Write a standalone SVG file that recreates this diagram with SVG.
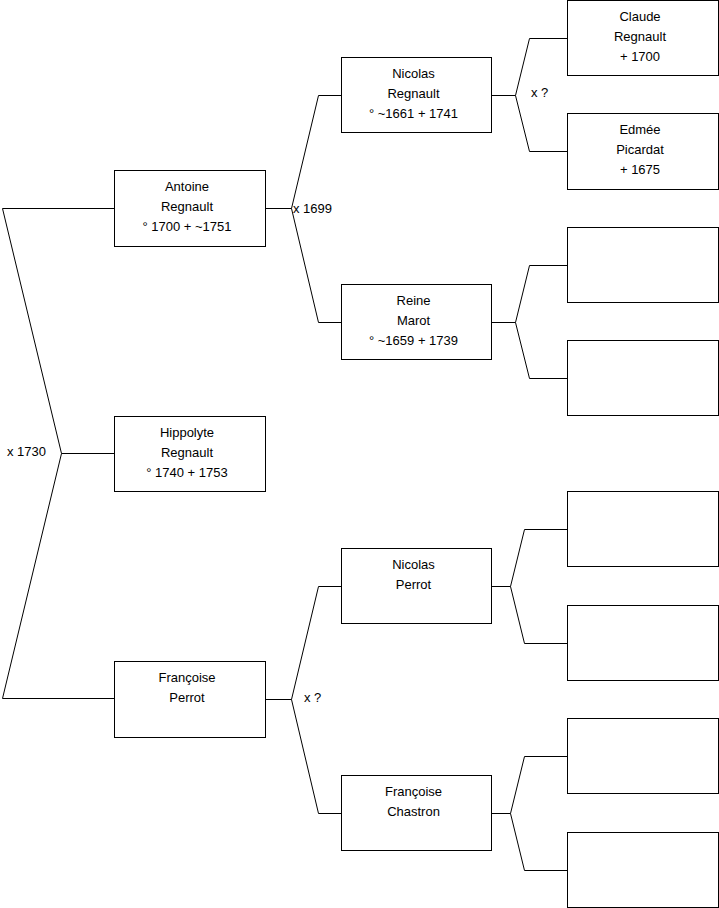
<svg xmlns="http://www.w3.org/2000/svg" width="719" height="908" viewBox="0 0 719 908">
<style>
.box{fill:#fff;stroke:#000;stroke-width:1}
.ln{fill:none;stroke:#000;stroke-width:1}
text{font-family:"Liberation Sans",Arial,sans-serif;font-size:13px;fill:#000}
.c{text-anchor:middle}
</style>
<rect width="719" height="908" fill="#fff"/>
<g id="connectors">
<path class="ln" d="M114,208.5 H2.5 L61.5,453.5 L2.5,698.5 H114 M61.5,453.5 H114"/>
<path class="ln" d="M265,208.5 H291.5 L318.5,95.5 H341 M291.5,208.5 L318.5,322.5 H341"/>
<path class="ln" d="M265,699.5 H291.5 L318.5,586.5 H341 M291.5,699.5 L318.5,813.5 H341"/>
<path class="ln" d="M492,95.5 H515.5 L529.5,38.5 H567 M515.5,95.5 L529.5,151.5 H567"/>
<path class="ln" d="M492,322.5 H515.5 L529.5,265.5 H567 M515.5,322.5 L529.5,378.5 H567"/>
<path class="ln" d="M492,586.5 H510.5 L524.5,529.5 H567 M510.5,586.5 L524.5,643.5 H567"/>
<path class="ln" d="M492,813.5 H510.5 L524.5,756.5 H567 M510.5,813.5 L524.5,870.5 H567"/>
<text x="7" y="456">x 1730</text>
<text x="293" y="213">x 1699</text>
<text x="304" y="702">x ?</text>
<text x="531" y="97">x ?</text>
</g>
<g id="antoine"><rect class="box" x="114.5" y="170.5" width="151" height="76"/>
<text class="c" x="187" y="191">Antoine</text><text class="c" x="187" y="211">Regnault</text><text class="c" x="187" y="231">° 1700 + ~1751</text></g>
<g id="hippolyte"><rect class="box" x="114.5" y="416.5" width="151" height="75"/>
<text class="c" x="187" y="437">Hippolyte</text><text class="c" x="187" y="457">Regnault</text><text class="c" x="187" y="477">° 1740 + 1753</text></g>
<g id="francoise-perrot"><rect class="box" x="114.5" y="661.5" width="151" height="76"/>
<text class="c" x="187" y="682">Françoise</text><text class="c" x="187" y="702">Perrot</text></g>
<g id="nicolas-regnault"><rect class="box" x="341.5" y="57.5" width="150" height="75"/>
<text class="c" x="413.5" y="78">Nicolas</text><text class="c" x="413.5" y="98">Regnault</text><text class="c" x="413.5" y="118">° ~1661 + 1741</text></g>
<g id="reine-marot"><rect class="box" x="341.5" y="284.5" width="150" height="75"/>
<text class="c" x="413.5" y="305">Reine</text><text class="c" x="413.5" y="325">Marot</text><text class="c" x="413.5" y="345">° ~1659 + 1739</text></g>
<g id="nicolas-perrot"><rect class="box" x="341.5" y="548.5" width="150" height="75"/>
<text class="c" x="413.5" y="569">Nicolas</text><text class="c" x="413.5" y="589">Perrot</text></g>
<g id="francoise-chastron"><rect class="box" x="341.5" y="775.5" width="150" height="75"/>
<text class="c" x="413.5" y="796">Françoise</text><text class="c" x="413.5" y="816">Chastron</text></g>
<g id="claude-regnault"><rect class="box" x="567.5" y="0.5" width="151" height="75"/>
<text class="c" x="640" y="21">Claude</text><text class="c" x="640" y="41">Regnault</text><text class="c" x="640" y="61"> + 1700</text></g>
<g id="edmee-picardat"><rect class="box" x="567.5" y="113.5" width="151" height="76"/>
<text class="c" x="640" y="134">Edmée</text><text class="c" x="640" y="154">Picardat</text><text class="c" x="640" y="174"> + 1675</text></g>
<g id="empty1"><rect class="box" x="567.5" y="227.5" width="151" height="75"/></g>
<g id="empty2"><rect class="box" x="567.5" y="340.5" width="151" height="75"/></g>
<g id="empty3"><rect class="box" x="567.5" y="491.5" width="151" height="75"/></g>
<g id="empty4"><rect class="box" x="567.5" y="605.5" width="151" height="75"/></g>
<g id="empty5"><rect class="box" x="567.5" y="718.5" width="151" height="75"/></g>
<g id="empty6"><rect class="box" x="567.5" y="832.5" width="151" height="75"/></g>
</svg>
